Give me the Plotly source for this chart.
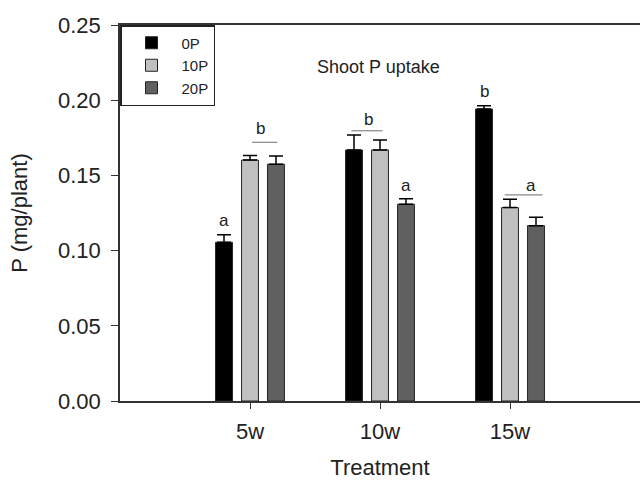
import plotly.graph_objects as go

categories = ["5w", "10w", "15w"]
series_names = ["0P", "10P", "20P"]
means = {
    "0P": [0.1055, 0.1669, 0.1941],
    "10P": [0.1602, 0.1669, 0.1286],
    "20P": [0.1574, 0.1308, 0.1166],
}
errors = {
    "0P": [0.0050, 0.0100, 0.0022],
    "10P": [0.0030, 0.0066, 0.0055],
    "20P": [0.0055, 0.0037, 0.0055],
}
colors = {"0P": "#000000", "10P": "#c0c0c0", "20P": "#606060"}

# significance letters: (text, x position in category units, y value)
letters = [
    ("a", -0.2, 0.1203),
    ("b", 0.08, 0.1809),
    ("b", 0.91, 0.1875),
    ("a", 1.2, 0.1430),
    ("b", 1.8, 0.2060),
    ("a", 2.16, 0.1436),
]
# significance lines: (x0, x1, y)
sig_lines = [
    (0.015, 0.21, 0.1720),
    (0.78, 1.02, 0.1797),
    (1.96, 2.25, 0.1370),
]

FONT = "Liberation Sans, Arial, sans-serif"
fig = go.Figure()
xpos = list(range(len(categories)))
for name in series_names:
    fig.add_trace(go.Bar(
        x=xpos,
        y=means[name],
        name=name,
        marker=dict(color=colors[name], line=dict(color="#222222", width=1)),
        error_y=dict(type="data", symmetric=False, array=errors[name],
                     arrayminus=[0] * len(categories),
                     color="#000000", thickness=1.5, width=7),
    ))

for txt, x, y in letters:
    fig.add_annotation(x=x, y=y, text=txt, showarrow=False,
                       font=dict(family=FONT, size=17, color="#222222"),
                       xref="x", yref="y")
for x0, x1, y in sig_lines:
    fig.add_shape(type="line", x0=x0, x1=x1, y0=y, y1=y, xref="x", yref="y",
                  line=dict(color="#888888", width=1.2))

fig.add_annotation(x=0.498, y=0.92, xref="paper", yref="paper",
                   text="Shoot P uptake", showarrow=False,
                   font=dict(family=FONT, size=18, color="#222222"))

fig.update_layout(
    width=640, height=480,
    margin=dict(l=120, r=0, t=25, b=79),
    paper_bgcolor="white", plot_bgcolor="white",
    barmode="group", bargap=0.4, bargroupgap=0.35,
    font=dict(family=FONT, color="#222222"),
    showlegend=True,
    legend=dict(x=0, y=1, xanchor="left", yanchor="top",
                bordercolor="#222222", borderwidth=1.5, bgcolor="white",
                itemwidth=50, tracegroupgap=0,
                font=dict(family=FONT, size=15, color="#222222")),
    xaxis=dict(range=[-1, 3], tickvals=xpos, ticktext=categories,
               showline=True, linecolor="#333333", linewidth=1.5, mirror=True,
               ticks="outside", ticklen=6, tickcolor="#333333",
               ticklabelstandoff=4,
               tickfont=dict(family=FONT, size=22, color="#222222"),
               title=dict(text="Treatment", font=dict(family=FONT, size=22, color="#222222"), standoff=16),
               showgrid=False, zeroline=False),
    yaxis=dict(range=[0, 0.25], dtick=0.05, tickformat=".2f",
               showline=True, linecolor="#333333", linewidth=1.5,
               ticks="outside", ticklen=7, tickcolor="#333333",
               ticklabelstandoff=6,
               tickfont=dict(family=FONT, size=22, color="#222222"),
               title=dict(text="P (mg/plant)", font=dict(family=FONT, size=22, color="#222222"), standoff=24),
               showgrid=False, zeroline=False),
)

fig.write_html("out.html")
